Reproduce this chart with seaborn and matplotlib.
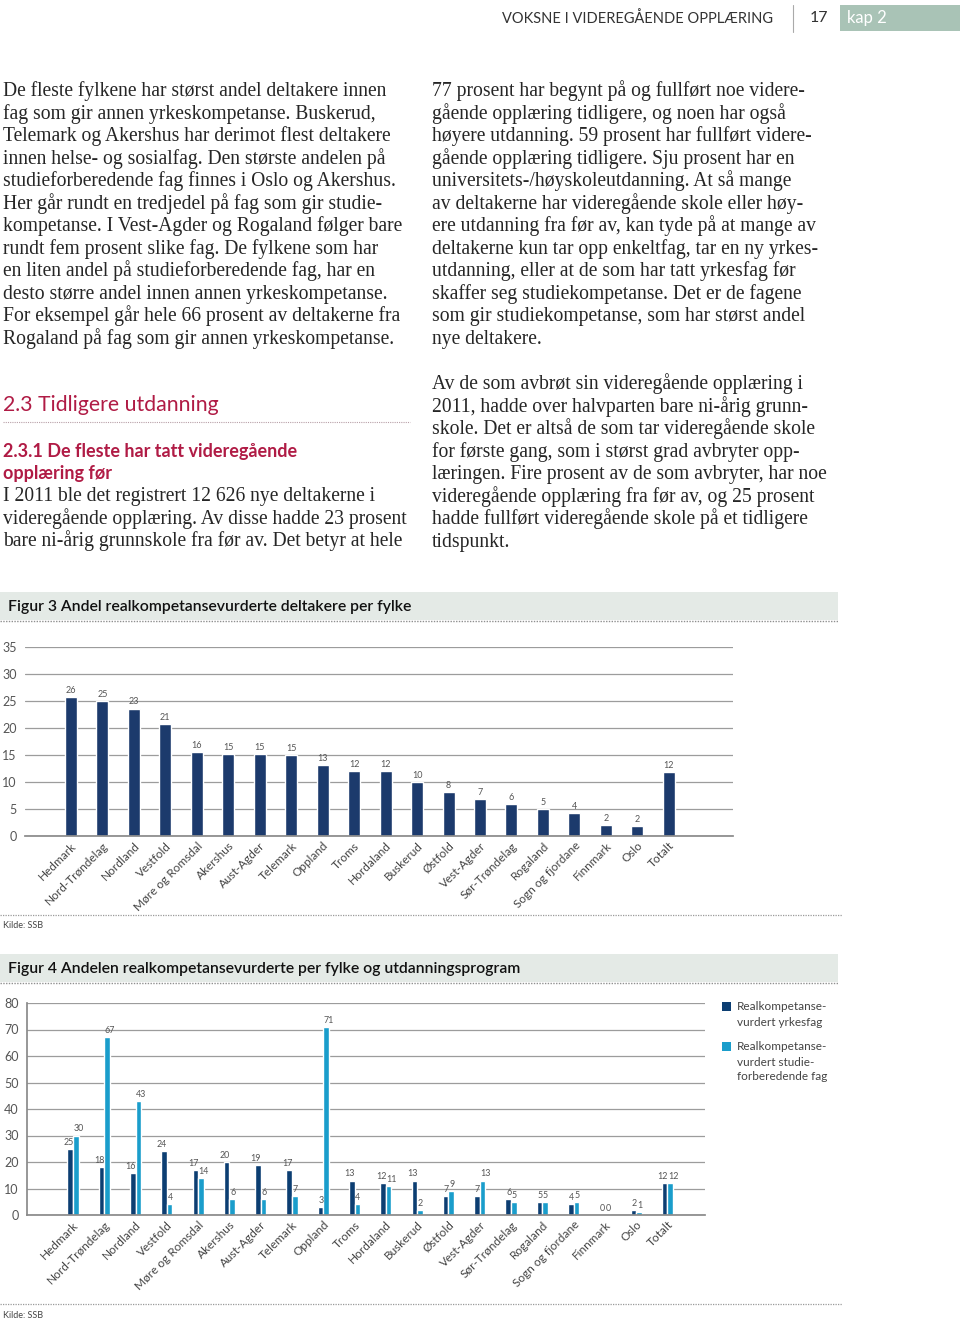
import matplotlib
matplotlib.use("Agg")
import matplotlib.pyplot as plt
import seaborn as sns
import pandas as pd
from matplotlib.patches import Rectangle
from matplotlib.lines import Line2D

# ---------------- data ----------------
fylker3 = ["Hedmark", "Nord-Trøndelag", "Nordland", "Vestfold", "Møre og Romsdal",
           "Akershus", "Aust-Agder", "Telemark", "Oppland", "Troms", "Hordaland",
           "Buskerud", "Østfold", "Vest-Agder", "Sør-Trøndelag", "Rogaland",
           "Sogn og fjordane", "Finnmark", "Oslo", "Totalt"]
andel3 = [25.8, 25.0, 23.6, 20.8, 15.6, 15.1, 15.1, 15.0, 13.2, 12.0, 12.0,
          10.0, 8.2, 6.8, 6.0, 5.0, 4.3, 2.0, 1.9, 11.9]
labels3 = [26, 25, 23, 21, 16, 15, 15, 15, 13, 12, 12, 10, 8, 7, 6, 5, 4, 2, 2, 12]
yticks3 = [0, 5, 10, 15, 20, 25, 30, 35]

fylker4 = ["Hedmark", "Nord-Trøndelag", "Nordland", "Vestfold", "Møre og Romsdal",
           "Akershus", "Aust-Agder", "Telemark", "Oppland", "Troms", "Hordaland",
           "Buskerud", "Østfold", "Vest-Agder", "Sør-Trøndelag", "Rogaland",
           "Sogn og fjordane", "Finnmark", "Oslo", "Totalt"]
yrkesfag4 = [25, 18, 16, 24, 17, 20, 19, 17, 3, 13, 12, 13, 7, 7, 6, 5, 4, 0, 2, 12]
studie4 = [30, 67, 43, 4, 14, 6, 6, 7, 71, 4, 11, 2, 9, 13, 5, 5, 5, 0, 1, 12]
serier4 = ["Realkompetanse-\nvurdert yrkesfag", "Realkompetanse-\nvurdert studie-\nforberedende fag"]
yticks4 = [0, 10, 20, 30, 40, 50, 60, 70, 80]

left_lines = [
    "De fleste fylkene har størst andel deltakere innen",
    "fag som gir annen yrkeskompetanse. Buskerud,",
    "Telemark og Akershus har derimot flest deltakere",
    "innen helse- og sosialfag. Den største andelen på",
    "studieforberedende fag finnes i Oslo og Akershus.",
    "Her går rundt en tredjedel på fag som gir studie-",
    "kompetanse. I Vest-Agder og Rogaland følger bare",
    "rundt fem prosent slike fag. De fylkene som har",
    "en liten andel på studieforberedende fag, har en",
    "desto større andel innen annen yrkeskompetanse.",
    "For eksempel går hele 66 prosent av deltakerne fra",
    "Rogaland på fag som gir annen yrkeskompetanse.",
]
left_lines2 = [
    "I 2011 ble det registrert 12 626 nye deltakerne i",
    "videregående opplæring. Av disse hadde 23 prosent",
    "bare ni-årig grunnskole fra før av. Det betyr at hele",
]
right_lines = [
    "77 prosent har begynt på og fullført noe videre-",
    "gående opplæring tidligere, og noen har også",
    "høyere utdanning. 59 prosent har fullført videre-",
    "gående opplæring tidligere. Sju prosent har en",
    "universitets-/høyskoleutdanning. At så mange",
    "av deltakerne har videregående skole eller høy-",
    "ere utdanning fra før av, kan tyde på at mange av",
    "deltakerne kun tar opp enkeltfag, tar en ny yrkes-",
    "utdanning, eller at de som har tatt yrkesfag før",
    "skaffer seg studiekompetanse. Det er de fagene",
    "som gir studiekompetanse, som har størst andel",
    "nye deltakere.",
]
right_lines2 = [
    "Av de som avbrøt sin videregående opplæring i",
    "2011, hadde over halvparten bare ni-årig grunn-",
    "skole. Det er altså de som tar videregående skole",
    "for første gang, som i størst grad avbryter opp-",
    "læringen. Fire prosent av de som avbryter, har noe",
    "videregående opplæring fra før av, og 25 prosent",
    "hadde fullført videregående skole på et tidligere",
    "tidspunkt.",
]

# ---------------- style ----------------
W, H = 960, 1320
sns.set_theme(style="white")
plt.rcParams["font.family"] = ["Lato", "DejaVu Sans"]

DARK3 = "#1c3a6c"
DARK4 = "#0c3e72"
LIGHT4 = "#1a9dcb"
CRIMSON = "#b01b45"
GRID = "#9c9c9c"
TXT = "#262626"
LBL = "#555555"
SERIF = ["Liberation Serif", "DejaVu Serif"]

fig = plt.figure(figsize=(W / 100, H / 100), dpi=100)


def fx(x):
    return x / W


def fy(y):
    return 1 - y / H


def axrect(l, t, r, b):
    return [l / W, 1 - b / H, (r - l) / W, (b - t) / H]


def hline(x0, x1, y, color="#999999", lw=0.8, ls=(0, (1, 1))):
    fig.add_artist(Line2D([fx(x0), fx(x1)], [fy(y), fy(y)], transform=fig.transFigure,
                          color=color, lw=lw, linestyle=ls))


# ---------------- header ----------------
fig.text(fx(773), fy(19), "VOKSNE I VIDEREGÅENDE OPPLÆRING", ha="right", va="center",
         fontsize=10.5, color="#333333")
fig.add_artist(Line2D([fx(793), fx(793)], [fy(5), fy(32)], transform=fig.transFigure,
                      color="#aaaaaa", lw=0.8))
fig.text(fx(810), fy(18), "17", ha="left", va="center", fontsize=11.5, color="#333333")
fig.add_artist(Rectangle((fx(840), fy(31)), fx(120), (26) / H, transform=fig.transFigure,
                         facecolor="#a9c3b6", edgecolor="none"))
fig.text(fx(847), fy(18), "kap 2", ha="left", va="center", fontsize=12, color="white")

# ---------------- body text ----------------
BODY = 14.1
step = 22.55
for i, s in enumerate(left_lines):
    fig.text(fx(3), fy(96 + i * step), s, family=SERIF, fontsize=BODY, color=TXT, va="baseline")
for i, s in enumerate(right_lines):
    fig.text(fx(432), fy(96 + i * step), s, family=SERIF, fontsize=BODY, color=TXT, va="baseline")
for i, s in enumerate(right_lines2):
    fig.text(fx(432), fy(389 + i * step), s, family=SERIF, fontsize=BODY, color=TXT, va="baseline")
for i, s in enumerate(left_lines2):
    fig.text(fx(3), fy(501 + i * step), s, family=SERIF, fontsize=BODY, color=TXT, va="baseline")

fig.text(fx(3), fy(411), "2.3 Tidligere utdanning", fontsize=15.3, color=CRIMSON,
         va="baseline")
hline(3, 410, 422, color="#b8a0a8")
fig.text(fx(3), fy(457), "2.3.1 De fleste har tatt videregående", fontsize=13,
         color=CRIMSON, va="baseline", fontweight="bold")
fig.text(fx(3), fy(479), "opplæring før", fontsize=13, color=CRIMSON, va="baseline",
         fontweight="bold")

# ---------------- figure title boxes ----------------
for top, bot, title in [(592, 620, "Figur 3 Andel realkompetansevurderte deltakere per fylke"),
                        (954, 982, "Figur 4 Andelen realkompetansevurderte per fylke og utdanningsprogram")]:
    fig.add_artist(Rectangle((0, fy(bot)), fx(838), (bot - top) / H, transform=fig.transFigure,
                             facecolor="#e4eae6", edgecolor="none"))
    hline(0, 838, bot + 1, color="#8f8f8f", lw=1.0)
    fig.text(fx(8), fy((top + bot) / 2 + 1), title, ha="left", va="center", fontsize=11.3,
             color="#111111", fontweight="semibold")

hline(0, 842, 915, color="#9a9a9a", lw=0.9)
fig.text(fx(3), fy(926), "Kilde: SSB", fontsize=6.5, color="#444444", va="center")
hline(0, 842, 1304, color="#9a9a9a", lw=0.9)
fig.text(fx(3), fy(1315), "Kilde: SSB", fontsize=6.5, color="#444444", va="center")

# ---------------- Figure 3 ----------------
ax3 = fig.add_axes(axrect(25, 647, 733, 836))
df3 = pd.DataFrame({"fylke": fylker3, "andel": andel3})
sns.barplot(data=df3, x="fylke", y="andel", color=DARK3, width=0.38, saturation=1, ax=ax3)
ax3.bar_label(ax3.containers[0], labels=[str(v) for v in labels3], padding=1.5,
              fontsize=6.5, color=LBL)
ax3.set_xlim(-1.46, 21.04)
ax3.set_ylim(0, 35)
ax3.set_yticks(yticks3)
ax3.set_xlabel("")
ax3.set_ylabel("")
ax3.grid(axis="y", color=GRID, lw=0.9)
ax3.set_axisbelow(True)
for sp in ["top", "right", "left"]:
    ax3.spines[sp].set_visible(False)
ax3.spines["bottom"].set_color("#8a8a8a")
ax3.tick_params(axis="y", length=0, pad=6, labelsize=9, labelcolor=LBL)
ax3.tick_params(axis="x", length=0, pad=3, labelsize=8.5, labelcolor="#444444")
plt.setp(ax3.get_xticklabels(), rotation=45, ha="right", rotation_mode="anchor")

# ---------------- Figure 4 ----------------
ax4 = fig.add_axes(axrect(27, 1003, 705, 1215))
df4 = pd.DataFrame({
    "fylke": fylker4 * 2,
    "andel": yrkesfag4 + studie4,
    "serie": [serier4[0]] * len(fylker4) + [serier4[1]] * len(fylker4),
})
sns.barplot(data=df4, x="fylke", y="andel", hue="serie", palette=[DARK4, LIGHT4],
            width=0.36, saturation=1, ax=ax4, legend=False)
for k, (cont, vals) in enumerate(zip(ax4.containers, [yrkesfag4, studie4])):
    anns = ax4.bar_label(cont, labels=[str(v) for v in vals], padding=1.5, fontsize=6.4,
                         color=LBL)
    for a in anns:
        if k == 0:
            a.set_ha("right")
            a.xyann = (2.3, 1.5)
        else:
            a.set_ha("left")
            a.xyann = (-1.6, 1.5)
ax4.set_xlim(-1.47, 20.2)
ax4.set_ylim(0, 80)
ax4.set_yticks(yticks4)
ax4.set_xlabel("")
ax4.set_ylabel("")
ax4.grid(axis="y", color=GRID, lw=0.9)
ax4.set_axisbelow(True)
for sp in ["top", "right"]:
    ax4.spines[sp].set_visible(False)
ax4.spines["bottom"].set_color("#8a8a8a")
ax4.spines["left"].set_color("#8a8a8a")
ax4.tick_params(axis="y", length=0, pad=6, labelsize=9, labelcolor=LBL)
ax4.tick_params(axis="x", length=0, pad=3, labelsize=8.5, labelcolor="#444444")
plt.setp(ax4.get_xticklabels(), rotation=45, ha="right", rotation_mode="anchor")

# legend
for (ytop, col, lines) in [(1002, DARK4, serier4[0]), (1042, LIGHT4, serier4[1])]:
    fig.add_artist(Rectangle((fx(722), fy(ytop + 9)), fx(9), 9 / H, transform=fig.transFigure,
                             facecolor=col, edgecolor="none"))
    for j, ln in enumerate(lines.split("\n")):
        fig.text(fx(737), fy(ytop + 5 + j * 15), ln, fontsize=8.5, color="#444444", va="center")

fig.savefig("out.png", dpi=100)
